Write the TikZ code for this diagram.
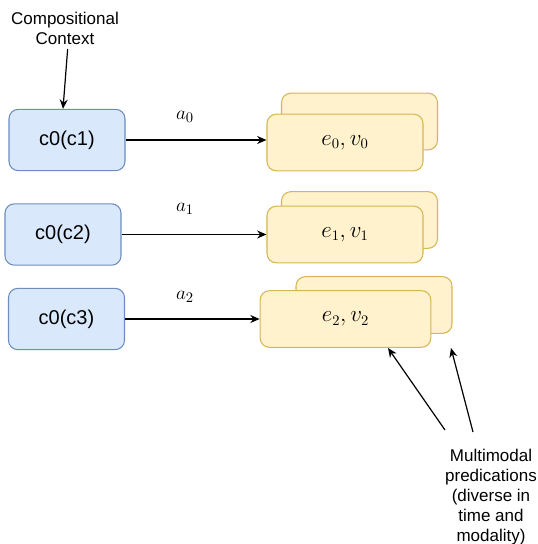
\documentclass[tikz,border=0pt]{standalone}
\usepackage{fontspec}
\setmainfont{Liberation Sans}
\usetikzlibrary{arrows.meta}
\definecolor{ctxfill}{HTML}{DAE8FC}
\definecolor{ctxline}{HTML}{6C8EBF}
\definecolor{predfill}{HTML}{FFF2CC}
\definecolor{predline}{HTML}{D6B656}

\tikzset{
  ctxbox/.style={draw=ctxline, fill=ctxfill, line width=0.8pt, rounded corners=7pt,
    minimum width=87pt, minimum height=46pt, font=\fontsize{15}{18}\selectfont},
  predbox/.style={draw=predline, fill=predfill, line width=0.8pt, rounded corners=7pt,
    minimum width=117pt, minimum height=42.5pt, font=\fontsize{16}{19}\selectfont},
  note/.style={align=center, font=\fontsize{12.75}{15}\selectfont},
  arr/.style={-{Stealth[length=7pt,width=6pt]}, line width=0.9pt},
}

\begin{document}
\begin{tikzpicture}[x=0.75pt, y=-0.75pt]
\useasboundingbox (0,0) rectangle (538,544);

        % Context boxes
        \node[ctxbox] (c1) at (67,140) {c0(c1)};
        \node[ctxbox] (c2) at (63,234.5) {c0(c2)};
        \node[ctxbox] (c3) at (66.5,319) {c0(c3)};

        % Back cards of the prediction stacks
        \node[predbox] (b0) at (359.5,121.5) {};
        \node[predbox] (b1) at (359.5,220) {};
        \node[predbox] (b2) at (374,305) {};

        % Front cards
        \node[predbox] (e0) at (345,142.5) {$e_0, v_0$};
        \node[predbox] (e1) at (345,234.5) {$e_1, v_1$};
        \node[predbox, minimum width=128pt] (e2) at (345.5,319) {$e_2, v_2$};

        % Context input
        \node[note] (ctx) at (65,28) {Compositional\\Context};
        \draw[arr] ([xshift=2pt]ctx.south) -- ([xshift=-3pt]c1.north);

        % Actions
        \draw[arr] (c1.east) -- (c1.east -| e0.west) ;
        \draw[arr] (c2.east) -- (c2.east -| e1.west) ;
        \draw[arr] (c3.east) -- (c3.east -| e2.west) ;
        \node[font=\fontsize{15}{18}\selectfont] (a0) at (185,117) {$a_0$};
        \node[font=\fontsize{15}{18}\selectfont] (a1) at (185,209) {$a_1$};
        \node[font=\fontsize{15}{18}\selectfont] (a2) at (185,297) {$a_2$};

        % Multimodal predictions note
        \node[note] (preds) at (491,497) {Multimodal\\predications\\(diverse in\\time and\\modality)};
        \coordinate (t1) at (445,430);
        \coordinate (t2) at (473,432);
        \coordinate (h1) at (388,348);
        \coordinate (h2) at (451,348);
        \draw[arr] (t1) -- (h1);
        \draw[arr] (t2) -- (h2);
\end{tikzpicture}
\end{document}
